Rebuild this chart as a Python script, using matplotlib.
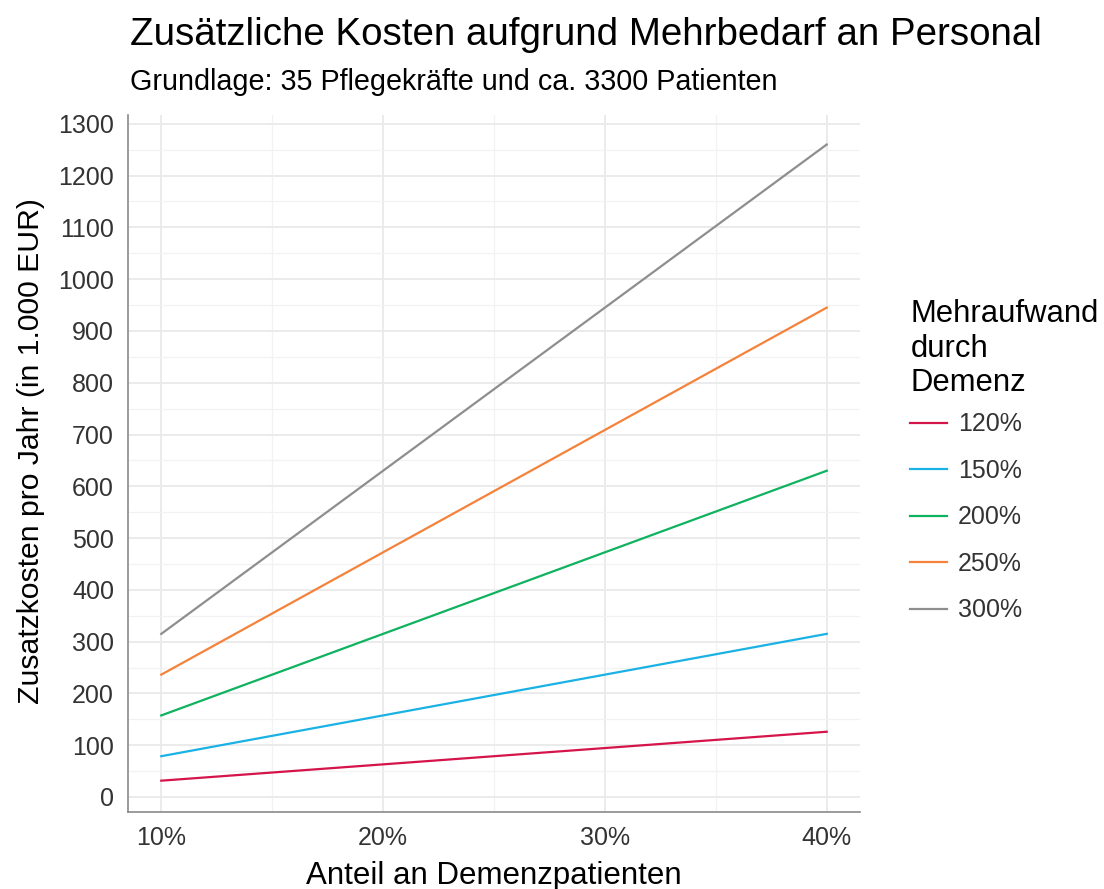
import numpy as np
import matplotlib
matplotlib.use("Agg")
from matplotlib import pyplot as plt
from matplotlib.ticker import MultipleLocator, FuncFormatter

plt.rcParams['font.family'] = ['Liberation Sans', 'DejaVu Sans']

anteil = [10, 20, 30, 40]
labels = ["120%", "150%", "200%", "250%", "300%"]
kosten_120 = [31.5, 63, 94.5, 126]
kosten_150 = [78.75, 157.5, 236.25, 315]
kosten_200 = [157.5, 315, 472.5, 630]
kosten_250 = [236.25, 472.5, 708.75, 945]
kosten_300 = [315, 630, 945, 1260]
series = [kosten_120, kosten_150, kosten_200, kosten_250, kosten_300]
colors = ["#D5144A", "#1AB2E5", "#0FB25E", "#F5823A", "#8E8E8E"]

fig = plt.figure(figsize=(11.04, 8.89), dpi=100)
ax = fig.add_axes([128/1104, 1-812/889, (860-128)/1104, (812-115)/889])

for vals, lab, col in zip(series, labels, colors):
    ax.plot(anteil, vals, color=col, lw=1.6, label=lab)

ax.set_xlim(8.5, 41.5)
ax.set_ylim(-29, 1317)
ax.xaxis.set_major_locator(MultipleLocator(10))
ax.xaxis.set_minor_locator(MultipleLocator(5))
ax.yaxis.set_major_locator(MultipleLocator(100))
ax.yaxis.set_minor_locator(MultipleLocator(50))
ax.xaxis.set_major_formatter(FuncFormatter(lambda v, p: "%d%%" % v))
ax.grid(which='major', color='#EBEBEB', lw=1.4)
ax.grid(which='minor', color='#F2F2F2', lw=0.9)
ax.set_axisbelow(True)
for s in ['top', 'right']:
    ax.spines[s].set_visible(False)
for s in ['left', 'bottom']:
    ax.spines[s].set_color('#8A8A8A')
    ax.spines[s].set_linewidth(1.2)
ax.tick_params(which='both', length=0, labelsize=18, labelcolor='#333333', pad=10)

ax.set_xlabel("Anteil an Demenzpatienten", fontsize=22.5, labelpad=8)
ax.set_ylabel("Zusatzkosten pro Jahr (in 1.000 EUR)", fontsize=21.7)
ax.yaxis.set_label_coords(-83/732, 0.518)

fig.text(130/1104, 1-35/889, "Zusätzliche Kosten aufgrund Mehrbedarf an Personal",
         fontsize=27.7, va='center', ha='left')
fig.text(130/1104, 1-82/889, "Grundlage: 35 Pflegekräfte und ca. 3300 Patienten",
         fontsize=20.7, va='center', ha='left')

leg = ax.legend(title="Mehraufwand\ndurch\nDemenz", loc='upper left',
                bbox_to_anchor=(1.055, 0.75), frameon=False, fontsize=18,
                title_fontsize=22.3, handlelength=1.45, labelspacing=0.9,
                handletextpad=0.45, borderaxespad=0)
leg._legend_box.align = "left"
leg._legend_box.sep = 10
for t in leg.get_texts():
    t.set_color('#333333')

fig.savefig("out.png", dpi=100)
